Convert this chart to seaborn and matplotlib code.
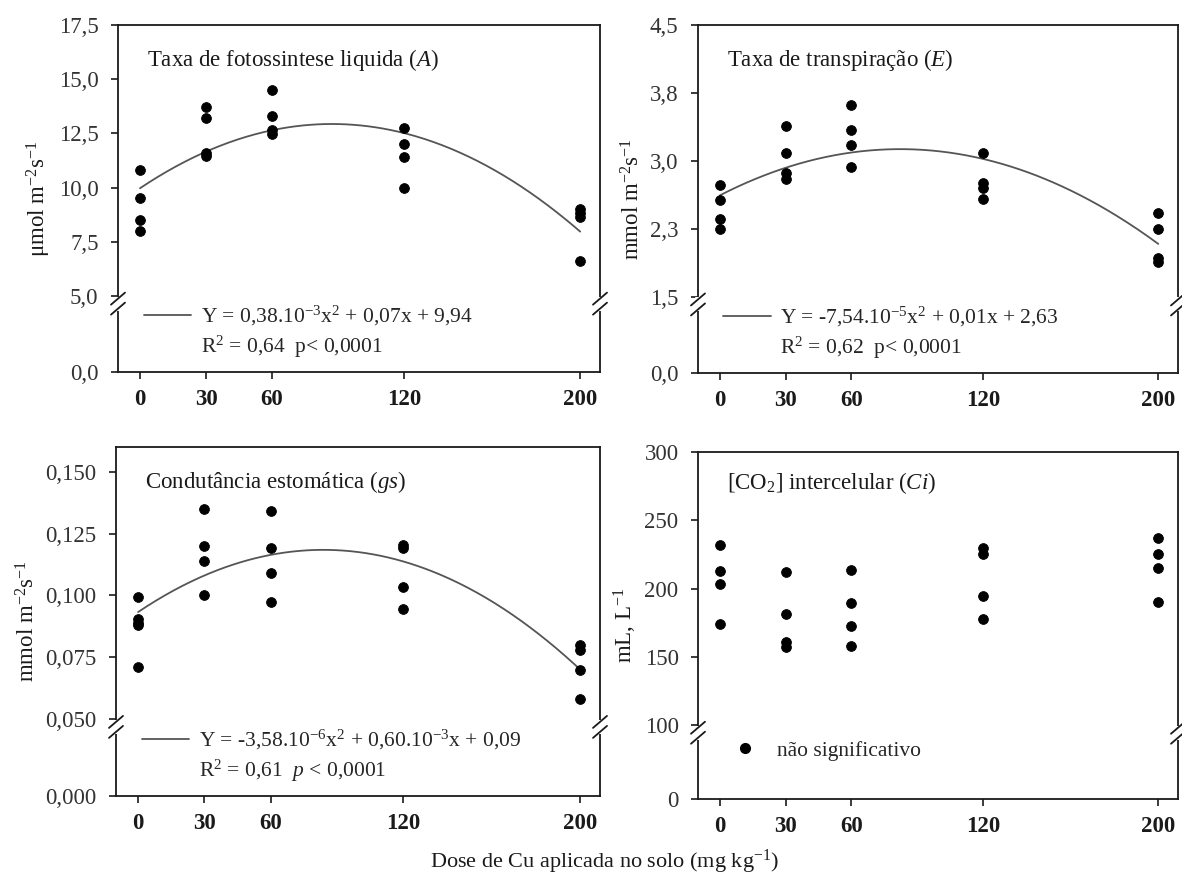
import numpy as np
import pandas as pd
import matplotlib
matplotlib.use('Agg')
import matplotlib.pyplot as plt
from matplotlib.lines import Line2D
import seaborn as sns

sns.set_style('ticks')
plt.rcParams['font.family'] = ['Liberation Serif', 'DejaVu Serif']
plt.rcParams['mathtext.fontset'] = 'custom'
plt.rcParams['mathtext.rm'] = 'Liberation Serif'
plt.rcParams['mathtext.it'] = 'Liberation Serif:italic'
plt.rcParams['mathtext.bf'] = 'Liberation Serif:bold'

# doses de Cu (mg kg-1)
doses = [0, 30, 60, 120, 200]

# valores (4 repeticoes por dose)
a_vals = [[10.8, 9.5, 8.5, 8.0],
          [13.7, 13.2, 11.6, 11.45],
          [14.5, 13.3, 12.65, 12.45],
          [12.75, 12.0, 11.4, 10.0],
          [9.0, 8.85, 8.65, 6.6]]
e_vals = [[2.73, 2.57, 2.36, 2.25],
          [3.38, 3.09, 2.87, 2.80],
          [3.62, 3.34, 3.17, 2.93],
          [3.09, 2.76, 2.70, 2.58],
          [2.43, 2.25, 1.93, 1.88]]
gs_vals = [[0.0995, 0.0905, 0.089, 0.088, 0.071],
           [0.135, 0.120, 0.114, 0.100],
           [0.134, 0.119, 0.109, 0.0975],
           [0.1205, 0.119, 0.1035, 0.0945],
           [0.080, 0.078, 0.070, 0.058]]
ci_vals = [[232, 213, 203, 174],
           [212, 181, 161, 157],
           [213.5, 189.5, 172.5, 158],
           [230, 225, 194.5, 178],
           [237, 225, 215, 190]]

# coeficientes das curvas ajustadas (a, b, c)
a_coef = [-3.9e-4, 0.068, 9.97]
e_coef = [-7.54e-5, 0.0124, 2.62]
gs_coef = [-3.58e-6, 6.0e-4, 0.0933]

a_ticks = [0, 5, 7.5, 10, 12.5, 15, 17.5]
a_labels = ['0,0', '5,0', '7,5', '10,0', '12,5', '15,0', '17,5']
e_ticks = [0, 1.5, 2.25, 3.0, 3.75, 4.5]
e_labels = ['0,0', '1,5', '2,3', '3,0', '3,8', '4,5']
gs_ticks = [0, 0.05, 0.075, 0.1, 0.125, 0.15]
gs_labels = ['0,000', '0,050', '0,075', '0,100', '0,125', '0,150']
ci_ticks = [0, 100, 150, 200, 250, 300]
ci_labels = ['0', '100', '150', '200', '250', '300']

W, H = 1182, 880
fig = plt.figure(figsize=(W / 100, H / 100), dpi=100)

FS = 16.5     # ticks, titulos, eixos
FS_EQ = 15.5  # equacoes
ink = '#1a1a1a'
curve_col = '#555555'


def to_df(vals):
    xs, ys = [], []
    for d, v in zip(doses, vals):
        xs += [d] * len(v)
        ys += v
    return pd.DataFrame({'dose': xs, 'valor': ys})


def broken_scale(brk, top, frac=0.219):
    def fwd(y):
        y = np.asarray(y, float)
        return np.where(y < brk, y / brk * frac, frac + (y - brk) / (top - brk) * (1 - frac))

    def inv(t):
        t = np.asarray(t, float)
        return np.where(t < frac, t / frac * brk, brk + (t - frac) / (1 - frac) * (top - brk))
    return fwd, inv


def draw_break(ax, yc):
    bb = ax.get_position()
    wpx, hpx = bb.width * W, bb.height * H
    for xs in (0, 1):
        ax.plot([xs, xs], [yc - 7 / hpx, yc + 7 / hpx], transform=ax.transAxes,
                color='white', lw=4, clip_on=False, zorder=5, solid_capstyle='butt')
        for off in (-5, 5):
            ax.plot([xs - 7 / wpx, xs + 7 / wpx], [yc + (off - 6) / hpx, yc + (off + 6) / hpx],
                    transform=ax.transAxes, color=ink, lw=1.3, clip_on=False, zorder=6)


def painel(rect, vals, brk, top, ticks, labels, titulo, ylabel, coef=None, eq=None, r2=None,
           frac=0.219, ty=0.9, lpad=4):
    ax = fig.add_axes(rect)
    fwd, inv = broken_scale(brk, top, frac)
    ax.set_yscale('function', functions=(fwd, inv))
    df = to_df(vals)
    sns.scatterplot(data=df, x='dose', y='valor', ax=ax, color='black', edgecolor='black',
                    s=50, zorder=4)
    if coef is not None:
        xx = np.linspace(0, 200, 300)
        ax.plot(xx, np.polyval(coef, xx), color=curve_col, lw=1.3, zorder=3)
        handles = [Line2D([], [], color=curve_col, lw=1.3), Line2D([], [], alpha=0)]
        ax.legend(handles, [eq, r2], loc='lower left', bbox_to_anchor=(0.053, 0.035),
                  frameon=False, fontsize=FS_EQ, handlelength=2.2, handletextpad=0.45,
                  labelspacing=0.25, borderaxespad=0, borderpad=0)
    ax.set_xlim(-10, 209)
    ax.set_ylim(0, top)
    ax.set_xticks(doses)
    ax.set_xticklabels([str(d) for d in doses], fontweight='bold', fontsize=FS, color=ink)
    ax.set_yticks(ticks)
    ax.set_yticklabels(labels, fontsize=FS, color='#333333')
    ax.minorticks_off()
    ax.tick_params(axis='both', direction='out', length=5, width=1.2, color=ink)
    ax.tick_params(axis='x', pad=7)
    ax.tick_params(axis='y', pad=9)
    for sp in ax.spines.values():
        sp.set_linewidth(1.3)
        sp.set_color(ink)
    ax.set_xlabel('')
    ax.set_ylabel(ylabel, fontsize=FS, labelpad=lpad, color=ink)
    ax.text(0.06, ty, titulo, transform=ax.transAxes, fontsize=FS, ha='left', va='center', color=ink)
    draw_break(ax, frac - 0.022)
    return ax


# posicoes em pixels (esquerda, topo, direita, base)
def rect(l, t, r, b):
    return [l / W, 1 - b / H, (r - l) / W, (b - t) / H]


painel(rect(118, 25, 600, 372), a_vals, 5, 17.5, a_ticks, a_labels,
       'Taxa de fotossintese liquida ($\\mathit{A}$)', 'μmol m$^{-2}$s$^{-1}$',
       a_coef, 'Y = 0,38.10$^{-3}$x$^{2}$ + 0,07x + 9,94', 'R$^{2}$ = 0,64  p< 0,0001')
painel(rect(698, 25, 1178, 373), e_vals, 1.5, 4.5, e_ticks, e_labels,
       'Taxa de transpiração ($\\mathit{E}$)', 'mmol m$^{-2}$s$^{-1}$',
       e_coef, 'Y = -7,54.10$^{-5}$x$^{2}$ + 0,01x + 2,63', 'R$^{2}$ = 0,62  p< 0,0001')
painel(rect(116, 447, 600, 796), gs_vals, 0.05, 0.16, gs_ticks, gs_labels,
       'Condutância estomática ($\\mathit{gs}$)', 'mmol m$^{-2}$s$^{-1}$',
       gs_coef, 'Y = -3,58.10$^{-6}$x$^{2}$ + 0,60.10$^{-3}$x + 0,09',
       'R$^{2}$ = 0,61  $\\mathit{p}$ < 0,0001', frac=0.22)
ax4 = painel(rect(698, 452, 1178, 799), ci_vals, 100, 300, ci_ticks, ci_labels,
             '[CO$_{2}$] intercelular ($\\mathit{Ci}$)', 'mL, L$^{-1}$', frac=0.213, ty=0.91)
ax4.legend([Line2D([], [], marker='o', ls='none', color='black', markersize=7)],
           ['não significativo'], loc='lower left', bbox_to_anchor=(0.07, 0.11),
           frameon=False, fontsize=FS_EQ, handletextpad=0.9, handlelength=1.2,
           borderaxespad=0, borderpad=0)

fig.text(604 / W, 1 - 862 / H, 'Dose de Cu aplicada no solo (mg kg$^{-1}$)',
         ha='center', va='center', fontsize=16, color=ink)

fig.savefig('out.png', dpi=100)
